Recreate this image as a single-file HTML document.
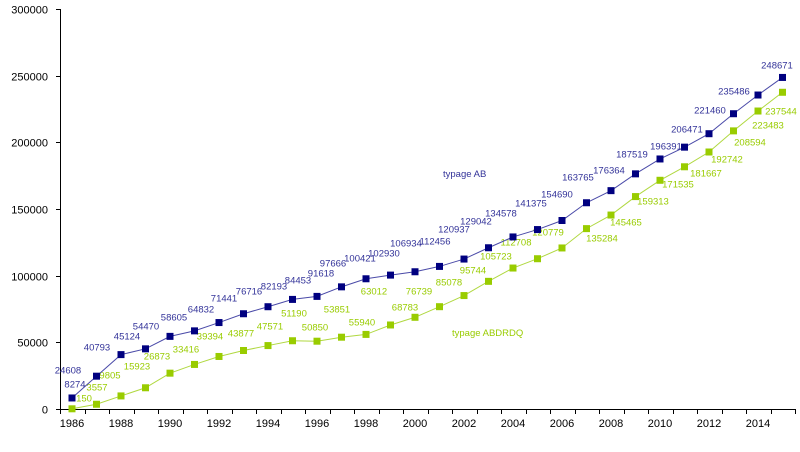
<!DOCTYPE html>
<html><head><style>body{margin:0;background:#fff}svg{display:block}text{font-family:"Liberation Sans",sans-serif}</style></head>
<body>
<svg width="800" height="452" viewBox="0 0 800 452" xmlns="http://www.w3.org/2000/svg">
<g id="axes" stroke="#000" stroke-width="1"></g>
<g id="c"></g>
<script>
var ns="http://www.w3.org/2000/svg";
function el(t,a,p,txt){var e=document.createElementNS(ns,t);for(var k in a)e.setAttribute(k,a[k]);if(txt!==undefined)e.textContent=txt;(p||document.querySelector('svg')).appendChild(e);return e;}
var X=function(i){return 72+i*24.5;},Y=function(v){return 409-v*400/300000;};
var ax=document.getElementById('axes'),c=document.getElementById('c');
el('line',{x1:60.5,y1:9,x2:60.5,y2:409.5},ax);
el('line',{x1:60,y1:409.5,x2:795,y2:409.5},ax);
for(var v=0;v<=300000;v+=50000){var y=Math.round(Y(v))+0.5;el('line',{x1:56,y1:y,x2:60,y2:y},ax);el('text',{x:48,y:y+4,'font-size':11,'text-anchor':'end'},c,v);}
for(var i=0;i<=30;i++){var x=Math.round(60+i*24.5)+0.5;el('line',{x1:x,y1:409,x2:x,y2:414},ax);}
for(var yr=1986;yr<=2014;yr+=2){el('text',{x:X(yr-1986),y:427,'font-size':11,'text-anchor':'middle'},c,yr);}
var b=[8274,24608,40793,45124,54470,58605,64832,71441,76716,82193,84453,91618,97666,100421,102930,106934,112456,120937,129042,134578,141375,154690,163765,176364,187519,196391,206471,221460,235486,248671];
var g=[150,3557,9805,15923,26873,33416,39394,43877,47571,51190,50850,53851,55940,63012,68783,76739,85078,95744,105723,112708,120779,135284,145465,159313,171535,181667,192742,208594,223483,237544];
var bl=[[75,384],[68,370],[97,347],[127,336],[146,326],[174,317],[201,309],[224,298],[249,291],[274,286],[298,280],[321,273],[333,263],[360,258],[384,253],[406,243],[435,241],[454,229],[476,221],[501,213],[531,203],[557,194],[578,177],[609,170],[632,154],[666,146],[687,129],[710,110],[734,91],[777,65]];
var gl=[[84,398],[97,387],[110,375],[137,366],[157,356],[186,349],[210,336],[241,333],[270,326],[294,313],[315,327],[337,309],[362,322],[374,291],[405,307],[419,291],[449,282],[473,270],[496,256],[516,242],[548,232],[602,238],[626,222],[653,201],[678,184],[706,173],[727,159],[750,142],[768,125],[781,111]];
function series(d,lab,lc,mc,tc){var p=d.map(function(v,i){return X(i)+','+Y(v)}).join(' ');
el('polyline',{points:p,fill:'none',stroke:lc,'stroke-width':1},c);
d.forEach(function(v,i){el('rect',{x:X(i)-3.5,y:Y(v)-3.5,width:7,height:7,fill:mc},c);});
d.forEach(function(v,i){el('text',{x:lab[i][0],y:lab[i][1]+3.5,'font-size':9.5,fill:tc,'text-anchor':'middle'},c,v);});}
series(g,gl,'#b0d840','#99cc00','#99cc00');
series(b,bl,'#4a4aa8','#000080','#333399');
el('text',{x:443,y:177,'font-size':9.5,fill:'#333399'},c,'typage AB');
el('text',{x:452,y:336,'font-size':9.5,fill:'#99cc00'},c,'typage ABDRDQ');
</script>
</svg>
</body></html>
